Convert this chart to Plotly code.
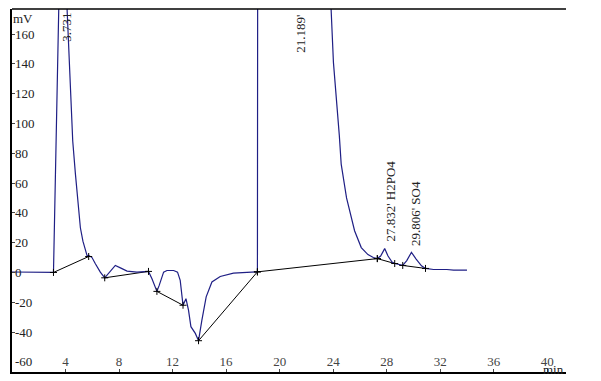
import plotly.graph_objects as go

# Chromatogram trace (minutes, mV)
time_min = [0.0, 1.0, 2.0, 2.8, 3.1, 3.5, 3.73, 4.12, 4.3, 4.54, 4.74, 5.11, 5.3, 5.49,
            5.62, 5.73, 5.98, 6.23, 6.6, 6.93, 7.22, 7.5, 7.72, 8.1, 8.6, 9.34, 10.2,
            10.46, 10.83, 11.0, 11.33, 11.58, 12.08, 12.37, 12.57, 12.78, 13.0, 13.19,
            13.37, 13.7, 13.94, 14.19, 14.51, 14.94, 15.56, 16.55, 17.55, 18.34, 18.45,
            21.19, 23.84, 24.02, 24.46, 24.6, 25.0, 25.6, 26.1, 26.6, 27.0, 27.3, 27.55,
            27.85, 28.1, 28.4, 28.6, 29.2, 29.5, 29.85, 30.2, 30.6, 30.9, 31.5, 32.5,
            33.0, 34.0]
signal_mv = [0.3, 0.2, 0.0, -0.2, 0.0, 180, 290, 176, 141, 88, 66, 30, 21, 14.7,
             11, 11.5, 10, 5.8, 0.2, -3.6, -0.4, 3, 4.7, 3.1, 0.9, 0.2, 0.7,
             -4.2, -12.7, -8.7, 0.2, 1.3, 1.3, 0.2, -5.3, -22, -17.6, -25.3,
             -36.4, -40.9, -45.8, -32, -16.4, -6.4, -2.7, -0.4, 0, 0.4, 1200,
             1250, 178, 141, 92, 72.7, 50, 28, 16.7, 12, 10, 9.3, 11,
             16, 11, 7, 6, 4.7, 8, 13.5, 9, 4.5, 2.7, 2, 2,
             1.5, 1.5]

# Integration baselines: (start time, start mV, end time, end mV)
base_t0 = [3.1, 6.93, 10.83, 13.94, 18.34, 27.3, 29.2]
base_v0 = [0.0, -3.6, -12.7, -45.8, 0.4, 9.3, 4.7]
base_t1 = [5.73, 10.2, 12.78, 18.34, 27.3, 28.6, 30.9]
base_v1 = [10.7, 0.7, -22.0, 0.4, 9.3, 6.0, 2.7]

# Peak labels
peak_labels = ["3.731", "21.189'", "27.832' H2PO4", "29.806' SO4"]
peak_label_t = [4.07, 21.55, 28.29, 30.15]
peak_label_v = [164.5, 160.5, 48.0, 39.5]

x_ticks = [4, 8, 12, 16, 20, 24, 28, 32, 36, 40]
y_ticks = [-60, -40, -20, 0, 20, 40, 60, 80, 100, 120, 140, 160]

FONT = "Liberation Serif, Times New Roman, serif"
TRACE = "#1f1f85"
TXT = "#222222"

fig = go.Figure()

bx, by = [], []
for a, b, c, d in zip(base_t0, base_v0, base_t1, base_v1):
    bx += [a, c, None]
    by += [b, d, None]
fig.add_trace(go.Scatter(x=bx, y=by, mode="lines",
                         line=dict(color="black", width=1), hoverinfo="skip"))

fig.add_trace(go.Scatter(x=time_min, y=signal_mv, mode="lines",
                         line=dict(color=TRACE, width=1.2)))

mx = base_t0 + base_t1
my = base_v0 + base_v1
fig.add_trace(go.Scatter(x=mx, y=my, mode="markers",
                         marker=dict(symbol="cross-thin", size=5,
                                     line=dict(color="black", width=1)),
                         hoverinfo="skip"))

for txt, t, v in zip(peak_labels, peak_label_t, peak_label_v):
    fig.add_annotation(x=t, y=v, text=txt, textangle=-90, showarrow=False,
                       font=dict(family=FONT, size=13, color=TXT),
                       xanchor="center", yanchor="middle")

# y tick labels drawn inside the plot, to the right of the axis
for v in y_ticks:
    fig.add_annotation(x=0, xref="paper", y=v, yref="y", text=str(v),
                       showarrow=False, xanchor="left", yanchor="middle", xshift=1,
                       font=dict(family=FONT, size=13, color=TXT))

fig.add_annotation(x=0, y=0.975, xref="paper", yref="paper", text="mV",
                   showarrow=False, xanchor="left", yanchor="middle", xshift=-1,
                   font=dict(family=FONT, size=13, color=TXT))
fig.add_annotation(x=1, y=0.008, xref="paper", yref="paper", text="min",
                   showarrow=False, xanchor="right", yanchor="middle",
                   font=dict(family=FONT, size=13, color=TXT))

fig.add_shape(type="line", xref="paper", yref="paper", x0=0, x1=1, y0=1, y1=1,
              line=dict(color="black", width=1.5))

# page body has an 8px margin, so the figure is sized/offset to compensate
fig.update_layout(
    width=593, height=373,
    margin=dict(l=4, r=35, t=1, b=9),
    paper_bgcolor="white", plot_bgcolor="white",
    showlegend=False,
    font=dict(family=FONT, size=13, color=TXT),
    xaxis=dict(range=[0, 41.4], tickvals=x_ticks, ticktext=[str(v) for v in x_ticks],
               ticklabelposition="inside", ticks="inside", ticklen=3,
               showline=True, linecolor="black", linewidth=1.5,
               showgrid=False, zeroline=False),
    yaxis=dict(range=[-66.8, 176.8], tickvals=y_ticks, showticklabels=False,
               ticks="inside", ticklen=3,
               showline=True, linecolor="black", linewidth=1.5,
               showgrid=False, zeroline=False),
)

fig.write_html("out.html")
